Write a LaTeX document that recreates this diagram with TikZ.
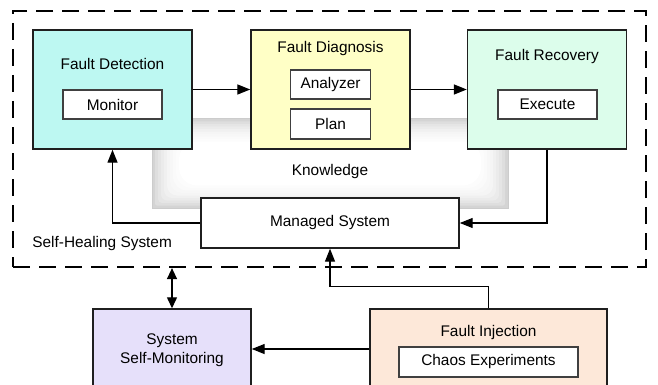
\documentclass[tikz,border=0pt]{standalone}
\usepackage{fontspec}
\setmainfont{Liberation Sans}
\usetikzlibrary{arrows.meta}
\definecolor{detcol}{HTML}{BDF8F2}
\definecolor{diagcol}{HTML}{FFFFC6}
\definecolor{reccol}{HTML}{DCFDEB}
\definecolor{moncol}{HTML}{E6E0FA}
\definecolor{injcol}{HTML}{FDE8D9}
\begin{document}
\begin{tikzpicture}[x=0.5pt,y=-0.5pt,font=\fontsize{7.7}{9.4}\selectfont]
            \tikzset{
                block/.style={draw=black!88, line width=0.7pt, minimum width=79.5pt, minimum height=59.5pt, inner sep=0pt},
                part/.style={draw=black!75, fill=white, line width=0.6pt, minimum height=14.5pt, inner sep=0pt},
                label/.style={inner sep=0pt},
                arc/.style={-{Triangle[length=6.5pt,width=5pt]}, line width=0.65pt},
                twoway/.style={{Triangle[length=5.5pt,width=5pt]}-{Triangle[length=5.5pt,width=5pt]}, line width=0.65pt}
            }
            \useasboundingbox (0,0) rectangle (658,385);
            \clip (0,0) rectangle (658,385);

            % knowledge backdrop, soft inner glow
            \foreach \k/\g in {0/17,1/13,2/10,3/8,4/6,5/4,6/3,7/2,8/1,9/0}{
            \fill[black!\g, rounded corners=\k pt] ({152+\k*3},{119+\k*2.5}) rectangle ({508-\k*3},{208-\k*2.5});
            }
            \draw[black!20, line width=0.5pt] (152,119) rectangle (508,208);
            \draw node[label] (kn) at (330,172) {Knowledge};

            \draw node[draw, dashed, line width=1.1pt, dash pattern=on 8.5pt off 4.5pt, minimum width=316.5pt, minimum height=128pt, inner sep=0pt] (shs) at (329.5,139) {};
            \draw node[label, anchor=west] (shl) at (32,244) {Self-Healing System};

            \draw node[block, fill=detcol] (det) at (112.5,89.5) {};
            \draw node[block, fill=diagcol] (diag) at (330.5,89.5) {};
            \draw node[block, fill=reccol] (rec) at (547,89.5) {};
            \draw node[label] (dett) at (112.5,64) {Fault Detection};
            \draw node[label] (diagt) at (330.5,49) {Fault Diagnosis};
            \draw node[label] (rect) at (547,57) {Fault Recovery};

            \draw node[part, minimum width=49.5pt] (mon) at (112.5,104.5) {Monitor};
            \draw node[part, minimum width=40pt] (ana) at (330.5,84.5) {Analyzer};
            \draw node[part, minimum width=40pt, minimum height=15pt] (plan) at (330.5,124) {Plan};
            \draw node[part, minimum width=49.5pt] (exe) at (547.5,104.5) {Execute};

            \draw node[block, fill=white, minimum width=129pt, minimum height=25pt] (ms) at (330,223) {Managed System};

            \draw node[block, fill=moncol, minimum width=79pt, minimum height=40pt] (sm) at (172,349) {};
            \draw node[label, align=center] (smt) at (172,350) {System\\Self-Monitoring};
            \draw node[block, fill=injcol, minimum width=118.5pt, minimum height=40pt] (fi) at (488.5,349) {};
            \draw node[label] (fit) at (488.5,333) {Fault Injection};
            \draw node[part, minimum width=89.5pt, minimum height=15pt] (chaos) at (488.5,362) {Chaos Experiments};

            \foreach \x/\y in {%
                det/diag, diag/rec, fi/sm%
            }{
            \draw (\x) edge[arc] (\y);
            }
            \draw[arc] (rec.south) |- (ms.east);
            \draw[arc] (ms.west) -| (det.south);
            \draw[arc] (fi.north) -- ++(0,-22) -| (ms.south);
            \draw[twoway] (sm.north |- shs.south) -- (sm.north);
        \end{tikzpicture}
\end{document}
